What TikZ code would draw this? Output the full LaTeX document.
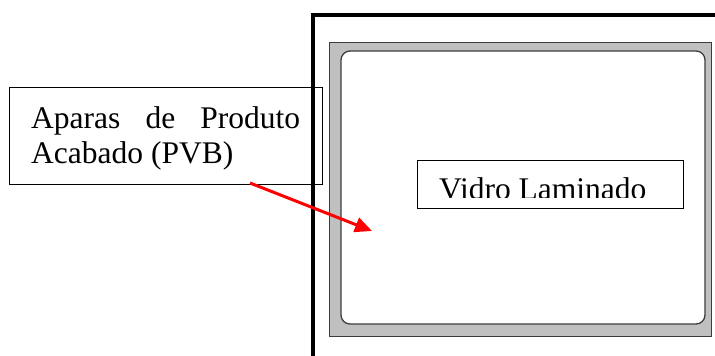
\documentclass[tikz,border=0pt]{standalone}
\usepackage{fontspec}
\setmainfont{Liberation Serif}
\usetikzlibrary{arrows.meta}
\definecolor{framegrey}{RGB}{192,192,192}
\definecolor{edgegrey}{RGB}{60,60,60}
\tikzset{
  labelbox/.style={draw=black, line width=1.2pt, fill=none, inner sep=0pt},
  labeltext/.style={anchor=base west, inner sep=0pt, font=\fontsize{31.5}{35}\selectfont},
  pointer/.style={draw=red, line width=3pt, -{Triangle[length=17pt,width=15pt]}},
}
\begin{document}
\begin{tikzpicture}[x=1pt,y=-1pt]
\useasboundingbox (0,0) rectangle (715,356);
% grey frame of the glass
\draw[draw=edgegrey, fill=framegrey, line width=1pt] (329,42) rectangle (711,336);
\draw[draw=edgegrey, fill=white, line width=1.3pt, rounded corners=9pt] (341,51) rectangle (705,324);
% thick black L
\draw[line width=4pt, line join=miter] (313,356) -- (313,15) -- (715,15);
% label box PVB
\node[labelbox, minimum width=313pt, minimum height=97pt, anchor=north west] (pvb) at (9,87) {};
\node[labeltext] (pvb1) at (31,128.3) {\makebox[269pt][s]{Aparas de Produto}};
\node[labeltext] (pvb2) at (31,163.3) {Acabado (PVB)};
% label box Vidro Laminado
\node[labelbox, minimum width=266pt, minimum height=48pt, anchor=north west] (vidro) at (417,160) {};
\begin{scope}
\clip (418,161) rectangle (682,197);
\node[labeltext] (vidrotext) at (439,199.5) {Vidro Laminado};
\end{scope}
% arrow
\coordinate (a0) at (250,183);
\coordinate (a1) at (372,231);
\draw[pointer] (a0) -- (a1);
\end{tikzpicture}
\end{document}
